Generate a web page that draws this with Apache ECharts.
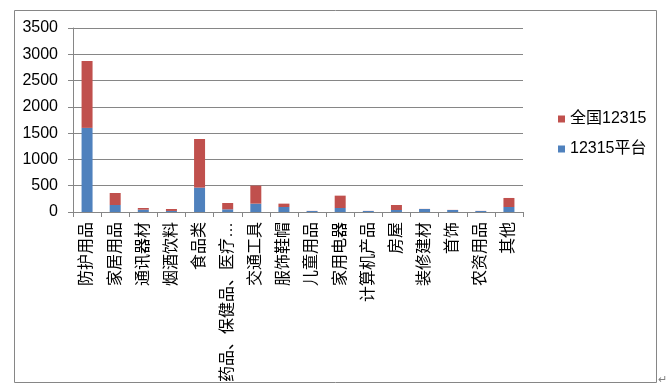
<!DOCTYPE html>
<html>
<head>
<meta charset="utf-8">
<script src="https://cdn.jsdelivr.net/npm/echarts@6/dist/echarts.min.js"></script>
<style>
html,body{margin:0;padding:0;background:#fff;}
#chart{width:671px;height:392px;}
</style>
</head>
<body>
<div id="chart"></div>
<script>
const categories = ['防护用品','家居用品','通讯器材','烟酒饮料','食品类','药品、保健品、医疗器械','交通工具','服饰鞋帽','儿童用品','家用电器','计算机产品','房屋','装修建材','首饰','农资用品','其他'];
const platform12315 = [1600, 133, 44, 20, 464, 51, 159, 95, 19, 76, 19, 38, 57, 38, 19, 95];
const national12315 = [1272, 229, 32, 37, 925, 120, 343, 64, 2, 235, 2, 95, 2, 2, 2, 172];
const yTicks = [0, 500, 1000, 1500, 2000, 2500, 3000, 3500];
const seriesNames = ['12315平台', '全国12315'];

const FONT = 'Liberation Sans, Noto Sans CJK SC, sans-serif';
const chart = echarts.init(document.getElementById('chart'), null, {renderer: 'canvas'});
chart.setOption({
  animation: false,
  backgroundColor: '#fff',
  textStyle: {fontFamily: FONT},
  grid: {left: 73, right: 148, top: 28, bottom: 180, containLabel: false},
  legend: {
    orient: 'vertical',
    left: 553, top: 106,
    itemWidth: 7, itemHeight: 7, itemGap: 14,
    icon: 'rect',
    data: [seriesNames[1], seriesNames[0]],
    textStyle: {fontSize: 16, color: '#000', fontFamily: FONT}
  },
  xAxis: {
    type: 'category',
    data: categories,
    axisLine: {lineStyle: {color: '#868686', width: 1}},
    axisTick: {show: true, length: 5, lineStyle: {color: '#868686'}},
    axisLabel: {
      rotate: 90, interval: 0, margin: 10, fontSize: 16, color: '#000',
      fontFamily: FONT, overflow: 'truncate', width: 162, ellipsis: '…'
    }
  },
  yAxis: {
    type: 'value',
    min: yTicks[0], max: yTicks[yTicks.length - 1], interval: yTicks[1] - yTicks[0],
    axisLine: {show: true, lineStyle: {color: '#868686', width: 1}},
    axisTick: {show: true, length: 5, lineStyle: {color: '#868686'}},
    splitLine: {lineStyle: {color: '#868686', width: 1}},
    axisLabel: {fontSize: 16, color: '#000', margin: 15, fontFamily: FONT, formatter: v => String(v)}
  },
  series: [
    {name: seriesNames[0], type: 'bar', stack: 'a', data: platform12315, barWidth: 11, itemStyle: {color: '#4F81BD'}},
    {name: seriesNames[1], type: 'bar', stack: 'a', data: national12315, barWidth: 11, itemStyle: {color: '#C0504D'}}
  ],
  graphic: [
    {type: 'rect', shape: {x: 14.5, y: 10.5, width: 642, height: 372}, style: {fill: 'none', stroke: '#868686', lineWidth: 1}, silent: true},
    {type: 'text', left: 658, top: 374, style: {text: '↵', fontSize: 11, fill: '#808080'}}
  ]
});
</script>
</body>
</html>
